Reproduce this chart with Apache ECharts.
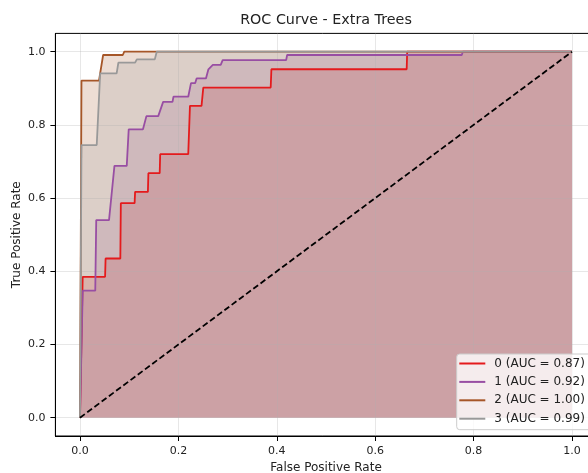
<!DOCTYPE html>
<html>
<head>
<meta charset="utf-8">
<script src="https://cdn.jsdelivr.net/npm/echarts@6/dist/echarts.min.js"></script>
<style>html,body{margin:0;padding:0;background:#fff}#c{width:588px;height:473px}</style>
</head>
<body>
<div id="c"></div>
<script>
// ---- data ----
const classNames = ['0 (AUC = 0.87)', '1 (AUC = 0.92)', '2 (AUC = 1.00)', '3 (AUC = 0.99)'];
const classColors = ['#e41a1c', '#984ea3', '#a65628', '#999999'];

const fpr0 = [0, 0.0055, 0.051, 0.052, 0.082, 0.083, 0.111, 0.112, 0.138, 0.139, 0.162, 0.163, 0.220, 0.2235, 0.247, 0.2506, 0.3876, 0.389, 0.664, 0.665, 1.0];
const tpr0 = [0, 0.385, 0.385, 0.435, 0.435, 0.586, 0.586, 0.617, 0.617, 0.668, 0.668, 0.720, 0.720, 0.852, 0.852, 0.902, 0.902, 0.952, 0.952, 1.0, 1.0];

const fpr1 = [0, 0.0055, 0.031, 0.033, 0.059, 0.070, 0.095, 0.099, 0.128, 0.135, 0.159, 0.169, 0.188, 0.190, 0.220, 0.2256, 0.234, 0.237, 0.256, 0.261, 0.263, 0.270, 0.286, 0.290, 0.419, 0.421, 0.776, 0.778, 1.0];
const tpr1 = [0, 0.347, 0.347, 0.540, 0.540, 0.688, 0.688, 0.788, 0.788, 0.824, 0.824, 0.863, 0.863, 0.877, 0.877, 0.914, 0.914, 0.927, 0.927, 0.952, 0.952, 0.964, 0.964, 0.977, 0.977, 0.991, 0.991, 1.0, 1.0];

const fpr2 = [0, 0.003, 0.0386, 0.047, 0.087, 0.090, 1.0];
const tpr2 = [0, 0.921, 0.921, 0.991, 0.991, 1.0, 1.0];

const fpr3 = [0, 0.003, 0.034, 0.041, 0.0745, 0.078, 0.112, 0.1155, 0.152, 0.156, 1.0];
const tpr3 = [0, 0.745, 0.745, 0.941, 0.941, 0.970, 0.970, 0.979, 0.979, 1.0, 1.0];

const chanceX = [0, 1];
const chanceY = [0, 1];

const tickValues = [0, 0.2, 0.4, 0.6, 0.8, 1.0];

// ---- build ----
const fprs = [fpr0, fpr1, fpr2, fpr3];
const tprs = [tpr0, tpr1, tpr2, tpr3];
const pairs = (xs, ys) => xs.map((x, i) => [x, ys[i]]);

const series = [];
// filled areas (under grid lines)
for (let i = 0; i < 4; i++) {
  series.push({
    type: 'line', name: 'area' + i, z: 1, silent: true,
    data: pairs(fprs[i], tprs[i]), showSymbol: false,
    lineStyle: { opacity: 0, width: 0 },
    itemStyle: { color: classColors[i] },
    areaStyle: { color: classColors[i], opacity: 0.2 }
  });
}
// curves
for (let i = 0; i < 4; i++) {
  series.push({
    type: 'line', name: classNames[i], z: 3,
    data: pairs(fprs[i], tprs[i]), showSymbol: false,
    itemStyle: { color: classColors[i] },
    lineStyle: { color: classColors[i], width: 1.8 }
  });
}
series.push({
  type: 'line', name: 'chance', z: 3,
  data: pairs(chanceX, chanceY), showSymbol: false,
  lineStyle: { color: '#000', width: 1.8, type: [6, 3] }
});

const textColor = '#222';
const font = 'DejaVu Sans';

const chart = echarts.init(document.getElementById('c'));
chart.setOption({
  animation: false,
  backgroundColor: '#fff',
  textStyle: { fontFamily: font },
  title: {
    text: 'ROC Curve - Extra Trees', left: 321, top: 8, textAlign: 'center',
    textStyle: { fontFamily: font, fontSize: 14.3, fontWeight: 'normal', color: textColor }
  },
  grid: {
    left: 55.4, top: 33.4, width: 541.2, height: 402.6,
    containLabel: false, outerBoundsMode: 'none',
    show: true, borderColor: '#000', borderWidth: 1, backgroundColor: 'transparent'
  },
  legend: {
    orient: 'vertical', left: 456.7, top: 354,
    data: classNames, selectedMode: false,
    icon: 'rect', itemWidth: 26, itemHeight: 2, itemGap: 4.4,
    backgroundColor: 'rgba(255,255,255,0.8)', borderColor: '#cccccc', borderWidth: 1, borderRadius: 3,
    padding: [2.5, 20, 4, 2.6],
    textStyle: { fontFamily: font, fontSize: 12, color: textColor, lineHeight: 14, padding: [0, 0, 0, 4] }
  },
  xAxis: {
    type: 'value', min: -0.05, max: 1.05, z: 1.5,
    name: 'False Positive Rate', nameLocation: 'middle', nameGap: 25.5, nameMoveOverlap: false,
    nameTextStyle: { fontFamily: font, fontSize: 12, color: textColor },
    axisLine: { show: true, onZero: false, lineStyle: { color: '#000', width: 1 } },
    axisTick: { show: true, customValues: tickValues, length: 5, lineStyle: { color: '#000' } },
    axisLabel: { customValues: tickValues, margin: 10, fontFamily: font, fontSize: 11, color: textColor, formatter: v => v.toFixed(1) },
    splitLine: { show: true, lineStyle: { color: 'rgba(176,176,176,0.3)', width: 1 } }
  },
  yAxis: {
    type: 'value', min: -0.05, max: 1.05, z: 1.5,
    name: 'True Positive Rate', nameLocation: 'middle', nameGap: 33, nameMoveOverlap: false,
    nameTextStyle: { fontFamily: font, fontSize: 12, color: textColor },
    axisLine: { show: true, onZero: false, lineStyle: { color: '#000', width: 1 } },
    axisTick: { show: true, customValues: tickValues, length: 5, lineStyle: { color: '#000' } },
    axisLabel: { customValues: tickValues, margin: 10, fontFamily: font, fontSize: 11, color: textColor, formatter: v => v.toFixed(1) },
    splitLine: { show: true, lineStyle: { color: 'rgba(176,176,176,0.3)', width: 1 } }
  },
  series: series
});
</script>
</body>
</html>
